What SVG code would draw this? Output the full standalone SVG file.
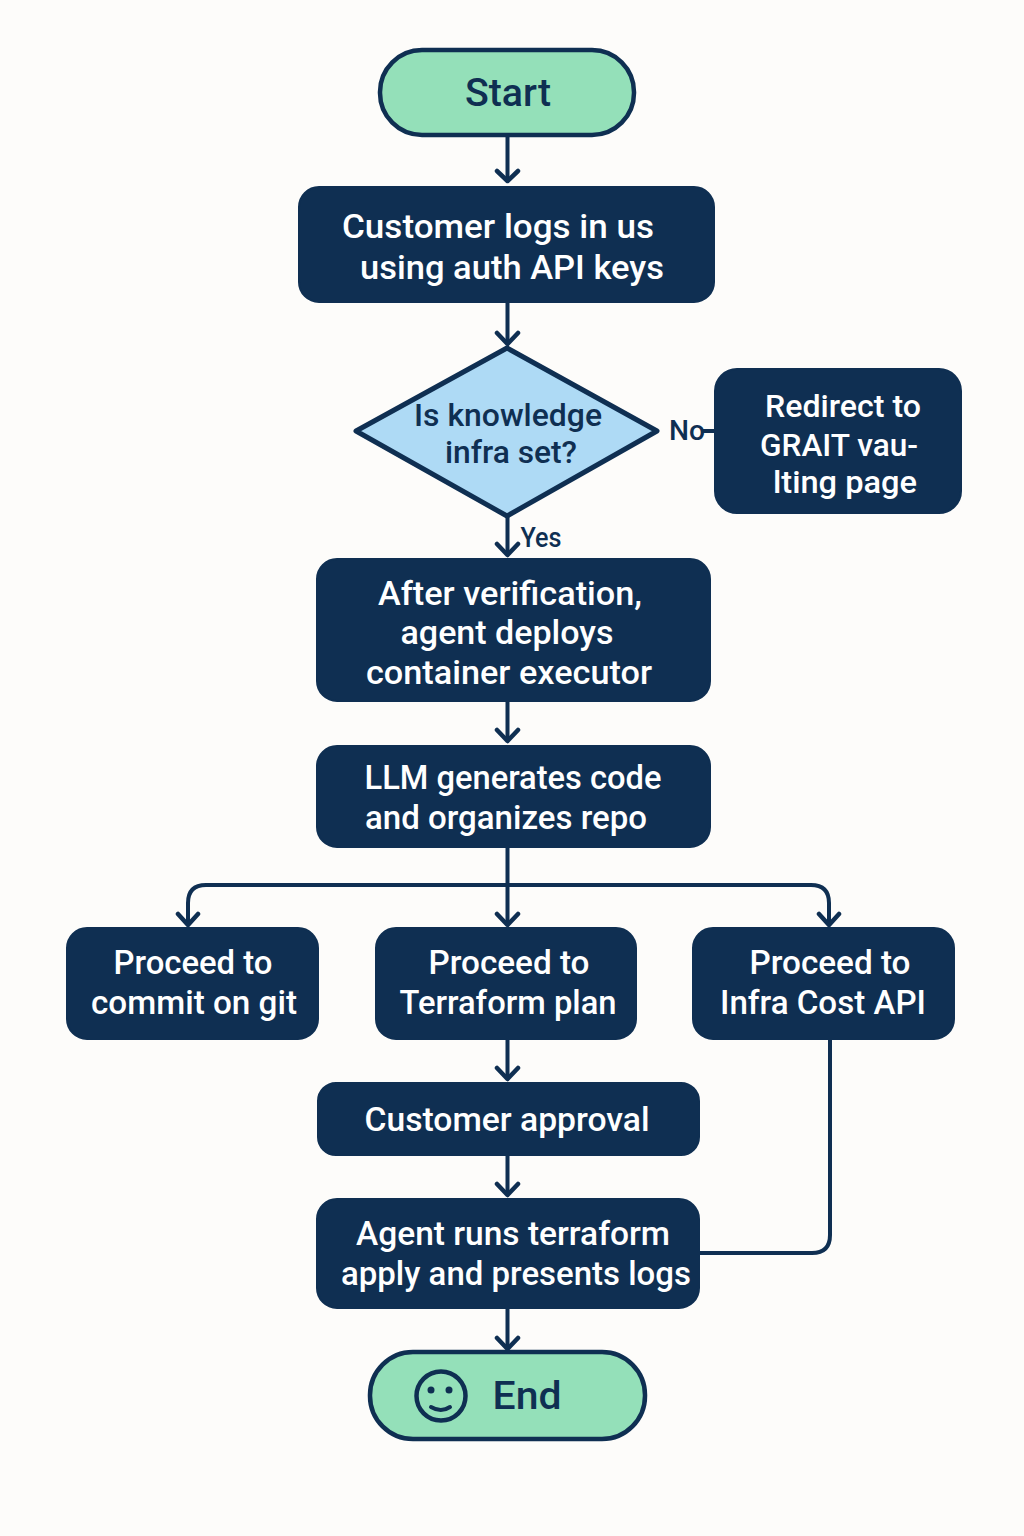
<svg xmlns="http://www.w3.org/2000/svg" width="1024" height="1536" viewBox="0 0 1024 1536">
<style>
.bg{fill:#fdfcfa}
.box{fill:#0f2f52;stroke:#0f2f52;stroke-width:2}
.term{fill:#94e0b9;stroke:#0f2f52;stroke-width:4.500}
.dec{fill:#aedaf5;stroke:#0f2f52;stroke-width:5;stroke-linejoin:round}
text{font-family:Roboto,"Noto Sans",sans-serif;font-weight:500;text-anchor:middle}
.w{fill:#fff;font-size:34px}
.r{fill:#fff;font-size:32px}
.d{fill:#0f2f52}
.c{fill:none;stroke:#0f2f52;stroke-width:4}
.a{fill:none;stroke:#0f2f52;stroke-width:4.500;stroke-linecap:round;stroke-linejoin:round}
</style>
<rect class="bg" width="1024" height="1536"/>
<g id="connectors">
<path class="c" d="M507.500 136V180M507.500 303V342M507.500 516V553M507.500 702V739M507.500 848V922M507.500 1040V1077M507.500 1156V1193M507.500 1308V1346"/>
<path class="c" d="M188 922V903Q188 885 206 885H811Q829 885 829 903V922"/>
<path class="c" d="M703 431H714"/>
<path class="c" d="M830 1040V1235Q830 1253 812 1253H700"/>
<path class="a" d="M497 171L507.500 181L518 171M497 333L507.500 344L518 333M497 544L507.500 555L518 544M497 730L507.500 741L518 730M497 914L507.500 925L518 914M178 914L188 925L198 914M819 914L829 925L839 914M497 1068L507.500 1079L518 1068M497 1184L507.500 1195L518 1184M497 1338L507.500 1349L518 1338"/>
</g>
<g id="start"><rect class="term" x="380" y="50" width="254" height="85" rx="42"/><text class="d" x="508" y="106" font-size="38" textLength="86" lengthAdjust="spacingAndGlyphs">Start</text></g>
<g id="login"><rect class="box" x="299" y="187" width="415" height="115" rx="20"/><text class="w" x="498" y="238" textLength="312" lengthAdjust="spacingAndGlyphs">Customer logs in us</text><text class="w" x="512" y="279" textLength="304" lengthAdjust="spacingAndGlyphs">using auth API keys</text></g>
<g id="decision"><path class="dec" d="M507 348L657 431L507 516L356 431Z"/><text class="d" x="508" y="426" font-size="31" textLength="188" lengthAdjust="spacingAndGlyphs">Is knowledge</text><text class="d" x="511" y="463" font-size="31" textLength="132" lengthAdjust="spacingAndGlyphs">infra set?</text></g>
<g id="no-label"><text class="d" x="687" y="440" font-size="28" textLength="36" lengthAdjust="spacingAndGlyphs">No</text></g>
<g id="redirect"><rect class="box" x="715" y="369" width="246" height="144" rx="22"/><text class="r" x="843" y="417" textLength="156" lengthAdjust="spacingAndGlyphs">Redirect to</text><text class="r" x="839" y="456" textLength="158" lengthAdjust="spacingAndGlyphs">GRAIT vau-</text><text class="r" x="845" y="493" textLength="144" lengthAdjust="spacingAndGlyphs">lting page</text></g>
<g id="yes-label"><text class="d" x="541" y="547" font-size="27" textLength="41" lengthAdjust="spacingAndGlyphs">Yes</text></g>
<g id="deploy"><rect class="box" x="317" y="559" width="393" height="142" rx="20"/><text class="w" x="510" y="605" textLength="264" lengthAdjust="spacingAndGlyphs">After verification,</text><text class="w" x="507" y="644" textLength="213" lengthAdjust="spacingAndGlyphs">agent deploys</text><text class="w" x="509" y="684" textLength="286" lengthAdjust="spacingAndGlyphs">container executor</text></g>
<g id="llm"><rect class="box" x="317" y="746" width="393" height="101" rx="20"/><text class="w" x="513" y="789" textLength="297" lengthAdjust="spacingAndGlyphs">LLM generates code</text><text class="w" x="506" y="829" textLength="282" lengthAdjust="spacingAndGlyphs">and organizes repo</text></g>
<g id="git"><rect class="box" x="67" y="928" width="251" height="111" rx="20"/><text class="w" x="193" y="974" textLength="159" lengthAdjust="spacingAndGlyphs">Proceed to</text><text class="w" x="194" y="1014" textLength="206" lengthAdjust="spacingAndGlyphs">commit on git</text></g>
<g id="plan"><rect class="box" x="376" y="928" width="260" height="111" rx="20"/><text class="w" x="509" y="974" textLength="161" lengthAdjust="spacingAndGlyphs">Proceed to</text><text class="w" x="508" y="1014" textLength="217" lengthAdjust="spacingAndGlyphs">Terraform plan</text></g>
<g id="cost"><rect class="box" x="693" y="928" width="261" height="111" rx="20"/><text class="w" x="830" y="974" textLength="161" lengthAdjust="spacingAndGlyphs">Proceed to</text><text class="w" x="823" y="1014" textLength="206" lengthAdjust="spacingAndGlyphs">Infra Cost API</text></g>
<g id="approval"><rect class="box" x="318" y="1083" width="381" height="72" rx="18"/><text class="w" x="507" y="1131" textLength="285" lengthAdjust="spacingAndGlyphs">Customer approval</text></g>
<g id="apply"><rect class="box" x="317" y="1199" width="382" height="109" rx="20"/><text class="w" x="513" y="1245" textLength="314" lengthAdjust="spacingAndGlyphs">Agent runs terraform</text><text class="w" x="516" y="1285" textLength="350" lengthAdjust="spacingAndGlyphs">apply and presents logs</text></g>
<g id="end"><rect class="term" x="370" y="1352" width="275" height="87" rx="43"/><circle cx="441" cy="1396" r="24.500" fill="none" stroke="#0f2f52" stroke-width="4.500"/><circle cx="431" cy="1390" r="3.500" fill="#0f2f52"/><circle cx="449" cy="1390" r="3.500" fill="#0f2f52"/><path d="M431 1407Q441 1413 450 1407" fill="none" stroke="#0f2f52" stroke-width="4" stroke-linecap="round"/><text class="d" x="527" y="1409" font-size="38" textLength="69" lengthAdjust="spacingAndGlyphs">End</text></g>
</svg>
